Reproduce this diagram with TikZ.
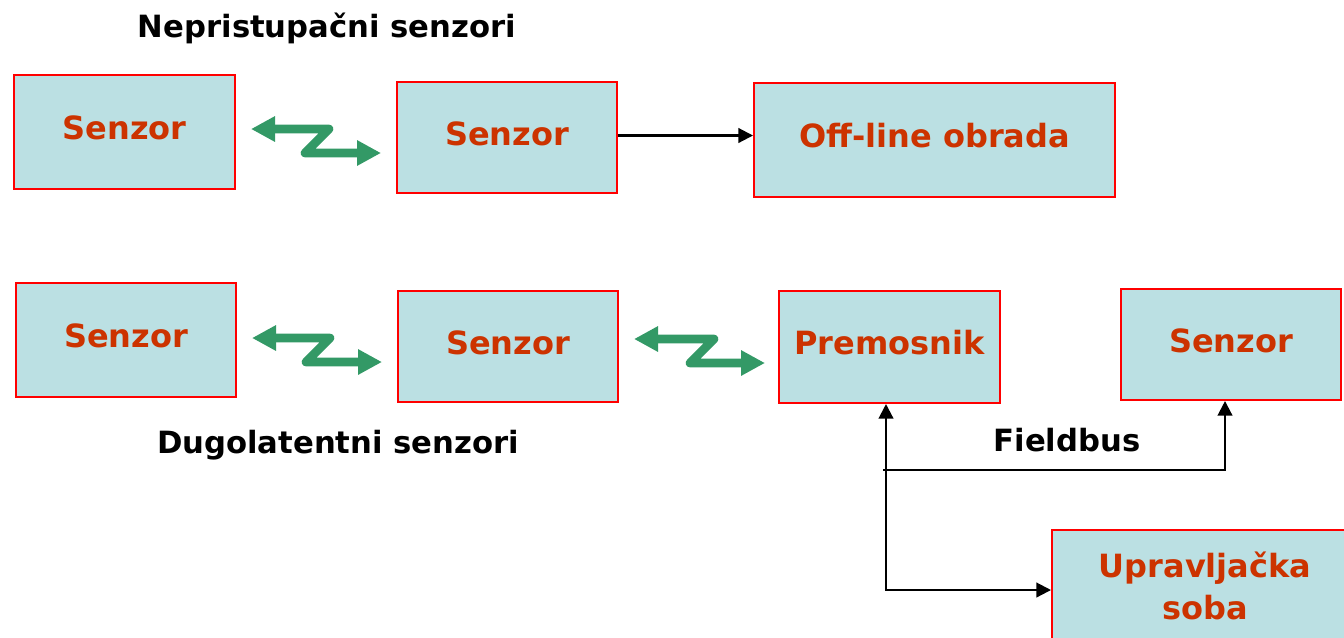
\documentclass[tikz,border=0pt]{standalone}
\usepackage{fontspec}
\setmainfont{DejaVu Sans}
\usetikzlibrary{arrows.meta,calc}
\definecolor{boxfill}{RGB}{187,224,227}
\definecolor{boxline}{RGB}{255,0,0}
\definecolor{lbl}{RGB}{204,51,0}
\definecolor{wgreen}{RGB}{51,153,102}
\begin{document}
\begin{tikzpicture}[x=0.75pt,y=-0.75pt,
  box/.style={draw=boxline,line width=1.5pt,fill=boxfill,text=lbl,
    font=\fontsize{24}{32}\selectfont\bfseries,inner sep=0pt,align=center},
  onebox/.style={box,text depth=6.5pt},
  title/.style={text=black,font=\fontsize{23}{28}\selectfont\bfseries,inner sep=0pt},
  wl/.style={draw=wgreen,line width=6.5pt,line join=round,
    {Triangle[length=18pt,width=18pt]}-{Triangle[length=18pt,width=18pt]}},
  conn/.style={draw=black,line width=1.6pt},
  tip/.style={-{Triangle[length=11pt,width=11pt]}},
  tiptwo/.style={{Triangle[length=11pt,width=11pt]}-{Triangle[length=11pt,width=11pt]}}]
\clip (0,0) rectangle (1344,637);
\fill[white] (0,0) rectangle (1344,637);
% titles
\node[title] (t1) at (327,28) {Nepristupačni senzori};
\node[title] (t2) at (338,445) {Dugolatentni senzori};
\node[title] (fbl) at (1067,440) {Fieldbus};
% boxes
\node[onebox,minimum width=165.75pt,minimum height=85.5pt] (s1) at (124.5,132) {Senzor};
\node[onebox,minimum width=165pt,minimum height=83.25pt] (s2) at (507,137.5) {Senzor};
\node[onebox,minimum width=270.75pt,minimum height=85.5pt] (off) at (934.5,140) {Off-line obrada};
\node[onebox,minimum width=165pt,minimum height=85.5pt] (s3) at (126,340) {Senzor};
\node[onebox,minimum width=165pt,minimum height=83.25pt] (s4) at (508,346.5) {Senzor};
\node[onebox,minimum width=165.75pt,minimum height=84pt] (prem) at (889.5,347) {Premosnik};
\node[onebox,minimum width=165pt,minimum height=83.25pt] (s5) at (1231,344.5) {Senzor};
\node[box,minimum width=229.5pt,minimum height=84pt] (upr) at (1205,586) {Upravljačka\\soba};
% wireless links
\draw[wl] ($(s1.east)+(15,-3)$) -- ++(78,0) -- ++(-24,24) -- ($(s2.west)+(-15,15.5)$);
\draw[wl] ($(s3.east)+(15,-2)$) -- ++(78,0) -- ++(-24,24) -- ($(s4.west)+(-15,15.5)$);
\draw[wl] ($(s4.east)+(15,-7.5)$) -- ++(80,0) -- ++(-24,24) -- ($(prem.west)+(-13,16)$);
% wired links
\draw[conn,tip] ($(s2.east)+(0,-2)$) -- ($(s2.east -| off.west)+(0,-2)$);
\coordinate (pb) at ($(prem.south)+(-3.5,0)$);
\coordinate (uw) at ($(upr.west)+(0,4)$);
\draw[conn,tiptwo] (pb) |- (uw);
\coordinate (fb) at (883,470);
\coordinate (sb) at ($(s5.south)+(-6,0)$);
\draw[conn,tip] (fb) -| (sb);
\end{tikzpicture}
\end{document}
